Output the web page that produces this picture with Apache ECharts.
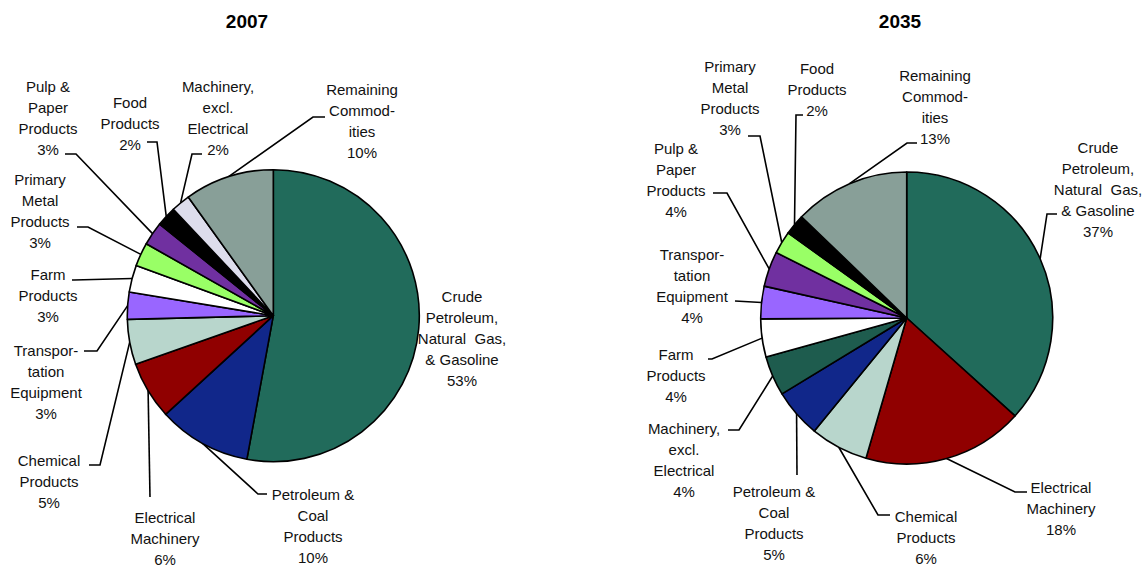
<!DOCTYPE html>
<html><head><meta charset="utf-8">
<script src="https://cdn.jsdelivr.net/npm/echarts@6/dist/echarts.min.js"></script>
<style>html,body{margin:0;padding:0;background:#fff}#c{width:1147px;height:567px}</style>
</head><body><div id="c"></div>
<script>
// ---- data ----
const titles = ['2007', '2035'];
const names2007 = ['Crude\nPetroleum,\nNatural  Gas,\n& Gasoline', 'Petroleum &\nCoal\nProducts', 'Electrical\nMachinery', 'Chemical\nProducts', 'Transpor-\ntation\nEquipment', 'Farm\nProducts', 'Primary\nMetal\nProducts', 'Pulp &\nPaper\nProducts', 'Food\nProducts', 'Machinery,\nexcl.\nElectrical', 'Remaining\nCommod-\nities'];
const values2007 = [52.9, 10.3, 6.4, 5.0, 3.0, 3.0, 2.6, 2.6, 2.2, 2.1, 9.9];
const names2035 = ['Crude\nPetroleum,\nNatural  Gas,\n& Gasoline', 'Electrical\nMachinery', 'Chemical\nProducts', 'Petroleum &\nCoal\nProducts', 'Machinery,\nexcl.\nElectrical', 'Farm\nProducts', 'Transpor-\ntation\nEquipment', 'Pulp &\nPaper\nProducts', 'Primary\nMetal\nProducts', 'Food\nProducts', 'Remaining\nCommod-\nities'];
const values2035 = [36.7, 17.8, 6.4, 5.4, 4.4, 4.2, 3.6, 3.9, 2.5, 2.3, 12.8];

// ---- styles ----
const colors2007 = ['#216B5B', '#11278A', '#900000', '#B8D6CC', '#9966FF', '#FFFFFF', '#99FF66', '#7030A0', '#000000', '#DDDDEC', '#889F98'];
const colors2035 = ['#216B5B', '#900000', '#B8D6CC', '#11278A', '#1E5C4E', '#FFFFFF', '#9966FF', '#7030A0', '#99FF66', '#000000', '#889F98'];
// label placement: [text centre x, first line centre y, elbow x, elbow y, end x, end y]
const labelPos2007 = [
  [462, 296, null], [313, 494, 258, 494, 267, 494], [165, 517, 150, 497, 150, 497],
  [49, 460, 100, 465, 89, 465], [46, 350, 97, 351, 84, 351], [48, 274, 74, 280, 72, 280],
  [40, 179, 88, 227, 77, 227], [48, 86, 76, 154, 65, 154], [130, 102, 157, 142, 147, 142],
  [218, 86, 192, 154, 202, 154], [362, 89, 313, 117, 325, 117]
];
const labelPos2035 = [
  [1098, 147, 1047, 214, 1057, 214], [1061, 487, 1015, 492, 1027, 492], [926, 516, 878, 515, 890, 515],
  [774, 491, 797, 475, 797, 475], [684, 428, 739, 430, 728, 430], [676, 354, 712, 359, 708, 359],
  [692, 254, 735, 301, 735, 301], [676, 148, 727, 193, 713, 193], [730, 66, 760, 136, 748, 136],
  [817, 68, 796, 115, 803, 115], [935, 75, 907, 143, 917, 143]
];
const FONT = '"Liberation Sans", Arial, sans-serif';

function mkData(names, values, colors, noLine) {
  return names.map((n, i) => {
    const d = { name: n, value: values[i], itemStyle: { color: colors[i] } };
    if (noLine && noLine.indexOf(i) >= 0) d.labelLine = { show: false };
    return d;
  });
}
function mkSeries(names, values, colors, center, pos, noLine) {
  return {
    type: 'pie', radius: 146, center: center, startAngle: 90, clockwise: true,
    avoidLabelOverlap: false, animation: false,
    data: mkData(names, values, colors, noLine),
    itemStyle: { borderColor: '#000', borderWidth: 1.6 },
    emphasis: { disabled: true },
    label: {
      show: true, position: 'outside', color: '#111', fontFamily: FONT, fontSize: 15,
      lineHeight: 21, align: 'center',
      formatter: p => p.name + '\n' + Math.round(p.value) + '%'
    },
    labelLine: { show: true, length: 5, length2: 5, lineStyle: { color: '#000', width: 1.6 } },
    labelLayout: function (params) {
      const lp = pos[params.dataIndex];
      const out = { x: lp[0], y: lp[1] - 10.5, align: 'center', verticalAlign: 'top' };
      if (lp[2] != null && params.labelLinePoints) {
        const s = params.labelLinePoints[0];
        out.labelLinePoints = [[s[0], s[1]], [lp[2], lp[3]], [lp[4], lp[5]]];
      }
      return out;
    }
  };
}

const chart = echarts.init(document.getElementById('c'), null, { renderer: 'svg' });
chart.setOption({
  backgroundColor: '#fff',
  animation: false,
  graphic: [
    { type: 'text', x: 247, y: 21, style: { text: titles[0], align: 'center', verticalAlign: 'middle', font: 'bold 19px ' + FONT, fill: '#000' } },
    { type: 'text', x: 900, y: 21, style: { text: titles[1], align: 'center', verticalAlign: 'middle', font: 'bold 19px ' + FONT, fill: '#000' } }
  ],
  series: [
    mkSeries(names2007, values2007, colors2007, [273.3, 315.7], labelPos2007, [0]),
    mkSeries(names2035, values2035, colors2035, [906.7, 318], labelPos2035, [])
  ]
});
</script>
</body></html>
